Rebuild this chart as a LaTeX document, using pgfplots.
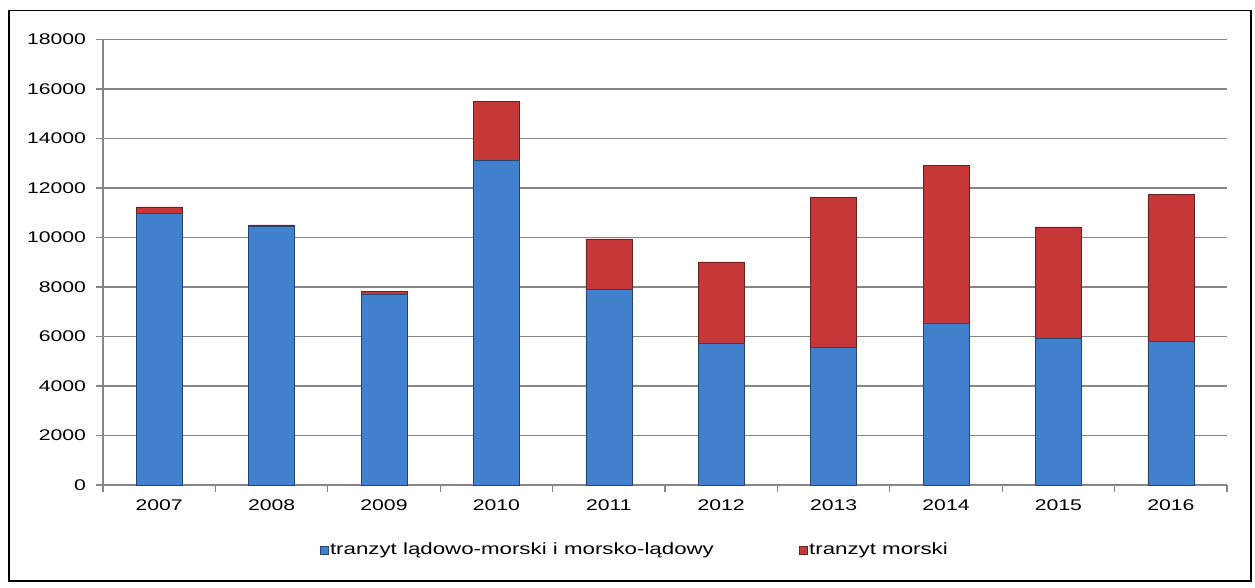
\documentclass[border=0pt]{standalone}
\usepackage{fontspec}
\setmainfont{Liberation Sans}[FakeStretch=1.37]
\usepackage{pgfplots}
\pgfplotsset{compat=1.18}

\definecolor{barblue}{RGB}{64,128,205}
\definecolor{barred}{RGB}{198,56,56}
\definecolor{axgray}{RGB}{134,134,134}

\begin{document}
\begin{tikzpicture}[x=1pt,y=1pt]
  % page area and outer frame (1px = 0.75pt)
  \path (0,0) rectangle (941.25,440.25);
  \draw[black, line width=1pt] (6.75,4.5) rectangle (938.25,432.4);

  \begin{axis}[
      at={(77.25pt,76.5pt)}, anchor=south west,
      scale only axis,
      width=843pt, height=334pt,
      ybar stacked,
      bar width=34.5pt,
      xmin=-0.5, xmax=9.5,
      ymin=0, ymax=18000,
      ytick distance=2000,
      scaled y ticks=false,
      xtick={0,...,9},
      xticklabels={2007,2008,2009,2010,2011,2012,2013,2014,2015,2016},
      minor xtick={-0.5,0.5,...,9.5},
      axis lines*=left,
      axis line style={axgray, line width=1pt},
      tick align=outside,
      major tick length=5.25pt,
      minor tick length=5.25pt,
      every tick/.style={axgray, line width=1pt},
      major x tick style={draw=none},
      ymajorgrids,
      grid style={axgray, line width=1pt},
      font=\fontsize{11.6}{13}\selectfont,
      /pgf/number format/assume math mode=true,
      /pgf/number format/fixed,
      /pgf/number format/1000 sep={},
      yticklabel style={xshift=-4pt},
      xticklabel style={yshift=-2pt},
      legend columns=-1,
      legend style={at={(0.473,-0.146)}, anchor=center, draw=none,
        font=\fontsize{12.2}{13}\selectfont,
        /tikz/every even column/.append style={column sep=62pt},
        nodes={inner sep=1.5pt}},
      legend image code/.code={\draw[#1] (0pt,-3pt) rectangle (6pt,3pt);},
    ]
    \addplot[fill=barblue, draw=barblue!55!black] coordinates
      {(0,10970) (1,10450) (2,7700) (3,13130) (4,7900)
       (5,5740) (6,5570) (7,6550) (8,5920) (9,5810)};
    \addplot[fill=barred, draw=barred!55!black] coordinates
      {(0,270) (1,60) (2,140) (3,2390) (4,2050)
       (5,3280) (6,6050) (7,6360) (8,4510) (9,5930)};
    \legend{tranzyt lądowo-morski i morsko-lądowy, tranzyt morski}
  \end{axis}
\end{tikzpicture}
\end{document}
